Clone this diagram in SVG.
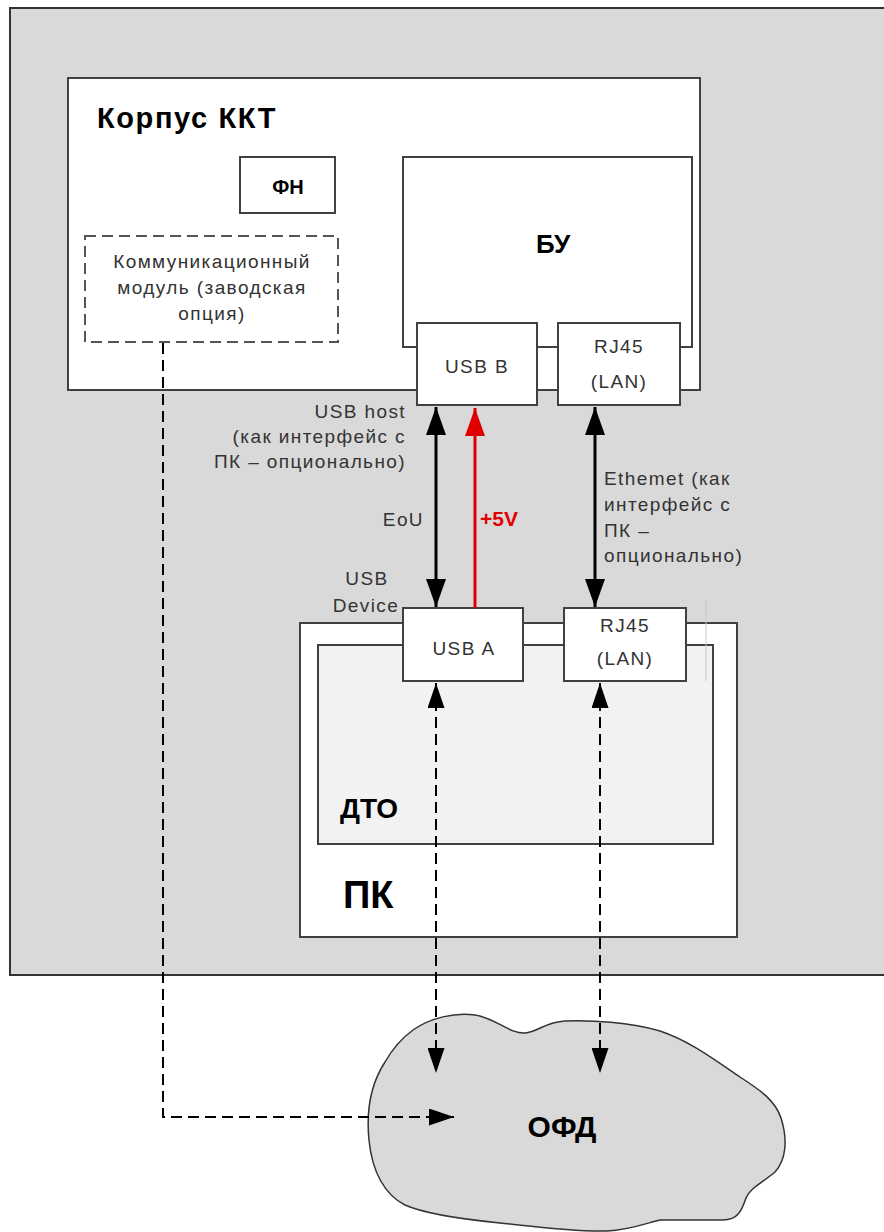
<svg xmlns="http://www.w3.org/2000/svg" width="884" height="1232" viewBox="0 0 884 1232">
<style>
.box{fill:#fff;stroke:#404040;stroke-width:2}
.lbl{font-family:"Liberation Sans",Arial,sans-serif;font-size:19px;fill:#333;letter-spacing:1.4px}
.bold{font-family:"Liberation Sans",Arial,sans-serif;font-weight:bold;fill:#000}
.solid{stroke:#000;stroke-width:3;fill:none}
.dash{stroke:#000;stroke-width:2;fill:none;stroke-dasharray:11,6}
</style>
<defs>
<marker id="ah" viewBox="0 0 28 20" refX="28" refY="10" markerWidth="28" markerHeight="20" markerUnits="userSpaceOnUse" orient="auto-start-reverse"><path d="M0,0 L28,10 L0,20 z" fill="#000"/></marker>
<marker id="ahr" viewBox="0 0 28 20" refX="28" refY="10" markerWidth="28" markerHeight="20" markerUnits="userSpaceOnUse" orient="auto-start-reverse"><path d="M0,0 L28,10 L0,20 z" fill="#e00000"/></marker>
<marker id="ahd" viewBox="0 0 25 17" refX="25" refY="8.5" markerWidth="25" markerHeight="17" markerUnits="userSpaceOnUse" orient="auto-start-reverse"><path d="M0,0 L25,8.5 L0,17 z" fill="#000"/></marker>
</defs>
<rect x="0" y="0" width="884" height="1232" fill="#fff"/>
<g id="area">
<rect x="10" y="8" width="880" height="967" fill="#d9d9d9"/>
<path d="M884,8 L10,8 L10,975 L884,975" fill="none" stroke="#333" stroke-width="2"/>
</g>
<g id="korpus">
<rect class="box" x="68" y="78" width="632" height="312"/>
<text class="bold" x="97" y="128" font-size="29" letter-spacing="1.6">Корпус ККТ</text>
</g>
<g id="fn">
<rect class="box" x="240" y="157" width="95" height="56"/>
<text class="bold" x="288" y="194" font-size="20" text-anchor="middle">ФН</text>
</g>
<g id="bu">
<rect class="box" x="403" y="157" width="289" height="190"/>
<text class="bold" x="553" y="253" font-size="26" text-anchor="middle">БУ</text>
</g>
<g id="comm">
<rect x="85" y="236" width="253" height="106" fill="#fff" stroke="#555" stroke-width="2" stroke-dasharray="11,6"/>
<text class="lbl" x="212" y="268" text-anchor="middle" font-size="20" letter-spacing="0">Коммуникационный</text>
<text class="lbl" x="212" y="294" text-anchor="middle" font-size="20" letter-spacing="0">модуль (заводская</text>
<text class="lbl" x="212" y="320" text-anchor="middle" font-size="20" letter-spacing="0">опция)</text>
</g>
<g id="usbb">
<rect class="box" x="417" y="323" width="120" height="82"/>
<text class="lbl" x="477" y="373" text-anchor="middle">USB B</text>
</g>
<g id="rj45top">
<rect class="box" x="558" y="323" width="122" height="82"/>
<text class="lbl" x="619" y="353" text-anchor="middle">RJ45</text>
<text class="lbl" x="619" y="388" text-anchor="middle">(LAN)</text>
</g>
<g id="pk">
<rect class="box" x="300" y="623" width="437" height="314"/>
<text class="bold" x="343" y="908" font-size="38">ПК</text>
</g>
<g id="dto">
<rect x="318" y="645" width="395" height="199" fill="#f2f2f2" stroke="#404040" stroke-width="2"/>
<text class="bold" x="340" y="818" font-size="28">ДТО</text>
</g>
<g id="usba">
<rect class="box" x="403" y="608" width="120" height="73"/>
<text class="lbl" x="464" y="655" text-anchor="middle">USB A</text>
</g>
<g id="rj45bot">
<rect class="box" x="564" y="608" width="122" height="73"/>
<text class="lbl" x="625" y="632" text-anchor="middle">RJ45</text>
<text class="lbl" x="625" y="665" text-anchor="middle">(LAN)</text>
</g>
<line x1="706" y1="600" x2="706" y2="681" stroke="#c8c8c8" stroke-width="1"/>
<g id="ofd">
<path d="M413,1030 C430,1018 455,1012 475,1015 C495,1018 510,1034 525,1033 C538,1032 545,1022 565,1021 C590,1020 630,1022 660,1031 C690,1041 715,1060 740,1077 C760,1090 775,1100 781,1118 C788,1140 786,1160 775,1172 C762,1183 750,1188 746,1198 C742,1210 738,1220 723,1220 L660,1220 C650,1222 630,1230 607,1231 C570,1232 530,1226 500,1223 C460,1219 425,1214 405,1205 C385,1195 372,1172 369,1140 C366,1110 370,1085 385,1062 C393,1048 402,1038 413,1030 Z" fill="#d9d9d9" stroke="#333" stroke-width="1.5"/>
<text class="bold" x="562" y="1137" font-size="30" text-anchor="middle">ОФД</text>
</g>
<g id="connectors">
<line class="solid" x1="436" y1="407" x2="436" y2="607" marker-start="url(#ah)" marker-end="url(#ah)"/>
<line x1="475" y1="608" x2="475" y2="408" stroke="#e00000" stroke-width="3" marker-end="url(#ahr)"/>
<line class="solid" x1="595" y1="407" x2="595" y2="607" marker-start="url(#ah)" marker-end="url(#ah)"/>
<line class="dash" x1="436" y1="683" x2="436" y2="1073" marker-start="url(#ahd)" marker-end="url(#ahd)"/>
<line class="dash" x1="600" y1="683" x2="600" y2="1073" marker-start="url(#ahd)" marker-end="url(#ahd)"/>
<path class="dash" d="M163,343 L163,1117 L454,1117" marker-end="url(#ahd)"/>
<text class="lbl" x="406" y="418" text-anchor="end">USB host</text>
<text class="lbl" x="406" y="443" text-anchor="end">(как интерфейс с</text>
<text class="lbl" x="406" y="468" text-anchor="end" letter-spacing="2.4">ПК – опционально)</text>
<text class="lbl" x="424" y="526" text-anchor="end">EoU</text>
<text class="bold" x="480" y="526" font-size="21" style="fill:#e00000">+5V</text>
<text class="lbl" x="604" y="485" letter-spacing="1.8">Ethemet (как</text>
<text class="lbl" x="604" y="511" letter-spacing="1.8">интерфейс с</text>
<text class="lbl" x="604" y="537" letter-spacing="1.8">ПК –</text>
<text class="lbl" x="604" y="562" letter-spacing="1.8">опционально)</text>
<text class="lbl" x="367" y="585" text-anchor="middle">USB</text>
<text class="lbl" x="366" y="612" text-anchor="middle">Device</text>
</g>
</svg>
